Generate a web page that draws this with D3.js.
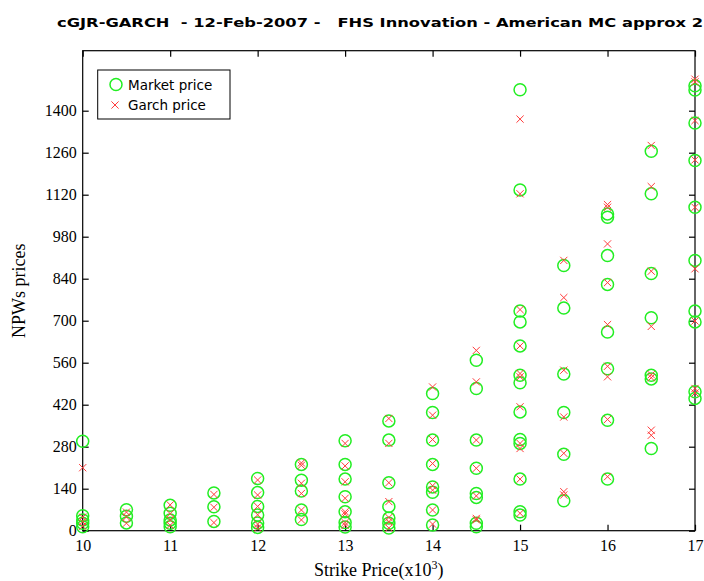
<!DOCTYPE html>
<html><head><meta charset="utf-8">
<script src="https://cdn.jsdelivr.net/npm/d3@7"></script>
<style>body{margin:0;background:#fff}svg{display:block}</style>
</head><body>
<script>
const strikes = [10, 10.5, 11, 11.5, 12, 12.5, 13, 13.5, 14, 14.5, 15, 15.5, 16, 16.5, 17];
const marketPrices = [
  [298, 50, 36, 25, 13],
  [70, 48, 26],
  [85, 58, 36, 25, 13],
  [126, 80, 31],
  [174, 127, 81, 52, 26, 11],
  [221, 168, 132, 69, 37],
  [300, 221, 172, 113, 63, 27, 12],
  [366, 302, 160, 81, 42, 25, 9],
  [457, 394, 302, 221, 146, 128, 69, 19],
  [568, 474, 302, 208, 124, 111, 25, 13],
  [1470, 1136, 732, 696, 616, 518, 493, 396, 304, 291, 172, 63, 52],
  [884, 742, 522, 394, 255, 100],
  [1056, 1045, 917, 821, 662, 540, 368, 172],
  [1265, 1123, 857, 710, 518, 506, 274],
  [1483, 1469, 1359, 1234, 1078, 901, 732, 696, 463, 441]
];
const garchPrices = [
  [210, 45, 30, 15],
  [62, 46, 25],
  [86, 57, 36, 18],
  [121, 78, 27],
  [169, 119, 81, 53, 22, 9],
  [226, 218, 158, 124, 69, 36],
  [291, 216, 163, 108, 63, 56, 27, 18],
  [374, 291, 160, 97, 44, 30, 9],
  [479, 385, 304, 224, 150, 135, 69, 22],
  [601, 496, 302, 208, 116, 41, 36],
  [1372, 1123, 737, 616, 524, 513, 413, 291, 274, 172, 58],
  [901, 777, 535, 379, 258, 130, 119],
  [1087, 1078, 956, 827, 687, 548, 513, 371, 180],
  [1284, 1147, 865, 681, 520, 510, 335, 318],
  [1505, 1496, 1367, 1236, 1078, 873, 699, 474, 459]
];
const xTicks = [10, 11, 12, 13, 14, 15, 16, 17];
const yTicks = [0, 140, 280, 420, 560, 700, 840, 980, 1120, 1260, 1400];
const titleText = "cGJR-GARCH  - 12-Feb-2007 -   FHS Innovation - American MC approx 2";
const legendLabels = ["Market price", "Garch price"];

const W = 704, H = 581;
const L = 82.7, R = 695, T = 50.7, B = 530.7;
const svg = d3.select("body").append("svg").attr("width", W).attr("height", H);
const x = d3.scaleLinear().domain([10, 17]).range([L, R]);
const y = d3.scaleLinear().domain([0, 1600]).range([B, T]);

const flat = (arr) => arr.flatMap((vals, i) => vals.map(v => ({s: strikes[i], v})));
const mk = flat(marketPrices), gc = flat(garchPrices);

// frame
svg.append("rect").attr("x", L).attr("y", T).attr("width", R - L).attr("height", B - T)
  .attr("fill", "none").attr("stroke", "#000").attr("stroke-width", 1.2);

const tl = 6;
const serif = "'Liberation Serif', 'DejaVu Serif', serif";
const gB = svg.append("g").attr("transform", `translate(0,${B})`)
  .call(d3.axisBottom(x).tickValues(xTicks).tickFormat(d3.format("d")).tickSizeInner(-tl).tickSizeOuter(0).tickPadding(9));
const gT = svg.append("g").attr("transform", `translate(0,${T})`)
  .call(d3.axisTop(x).tickValues(xTicks).tickFormat("").tickSizeInner(-tl).tickSizeOuter(0));
const gL = svg.append("g").attr("transform", `translate(${L},0)`)
  .call(d3.axisLeft(y).tickValues(yTicks).tickFormat(d3.format("d")).tickSizeInner(-tl).tickSizeOuter(0).tickPadding(6));
const gR = svg.append("g").attr("transform", `translate(${R},0)`)
  .call(d3.axisRight(y).tickValues(yTicks).tickFormat("").tickSizeInner(-tl).tickSizeOuter(0));
[gB, gT, gL, gR].forEach(g => {
  g.select(".domain").remove();
  g.selectAll(".tick line").attr("stroke", "#000").attr("stroke-width", 1.2);
  g.selectAll("text").attr("font-family", serif).attr("font-size", 16).attr("fill", "#000");
});

// markers
svg.append("g").selectAll("circle").data(mk).join("circle")
  .attr("cx", d => x(d.s)).attr("cy", d => y(d.v)).attr("r", 6)
  .attr("fill", "none").attr("stroke", "#22ee22").attr("stroke-width", 1.5);
const cs = 3.6;
svg.append("g").selectAll("path").data(gc).join("path")
  .attr("d", d => { const cx = x(d.s), cy = y(d.v);
    return `M${cx-cs},${cy-cs}L${cx+cs},${cy+cs}M${cx-cs},${cy+cs}L${cx+cs},${cy-cs}`; })
  .attr("stroke", "#ff3b3b").attr("stroke-width", 1).attr("fill", "none");

// title
svg.append("text").attr("x", 57).attr("y", 26.5).text(titleText)
  .attr("font-family", "'DejaVu Sans', sans-serif").attr("font-weight", "bold").attr("font-size", 12.5)
  .attr("textLength", 646).attr("lengthAdjust", "spacingAndGlyphs").style("white-space", "pre");

// axis labels
svg.append("text").attr("transform", `translate(25,${(T + B) / 2}) rotate(-90)`)
  .attr("text-anchor", "middle").attr("font-family", serif).attr("font-size", 18).text("NPWs prices");
const xl = svg.append("text").attr("x", (L + R) / 2 - 10).attr("y", 576).attr("text-anchor", "middle")
  .attr("font-family", serif).attr("font-size", 18);
xl.append("tspan").text("Strike Price(x10");
xl.append("tspan").attr("dy", -7).attr("font-size", 12).text("3");
xl.append("tspan").attr("dy", 7).text(")");

// legend
const lg = svg.append("g");
lg.append("rect").attr("x", 97.7).attr("y", 70).attr("width", 132.3).attr("height", 49)
  .attr("fill", "#fff").attr("stroke", "#000").attr("stroke-width", 1);
lg.append("circle").attr("cx", 116).attr("cy", 84.5).attr("r", 6)
  .attr("fill", "none").attr("stroke", "#22ee22").attr("stroke-width", 1.5);
lg.append("path").attr("d", `M${115-cs},${105-cs}L${115+cs},${105+cs}M${115-cs},${105+cs}L${115+cs},${105-cs}`)
  .attr("stroke", "#ff3b3b").attr("stroke-width", 1);
lg.selectAll("text.lt").data(legendLabels).join("text").attr("class", "lt")
  .attr("x", 128).attr("y", (d, i) => 89.5 + i * 20.5).text(d => d)
  .attr("font-family", "'DejaVu Sans', sans-serif").attr("font-size", 13.5);
</script>
</body></html>
